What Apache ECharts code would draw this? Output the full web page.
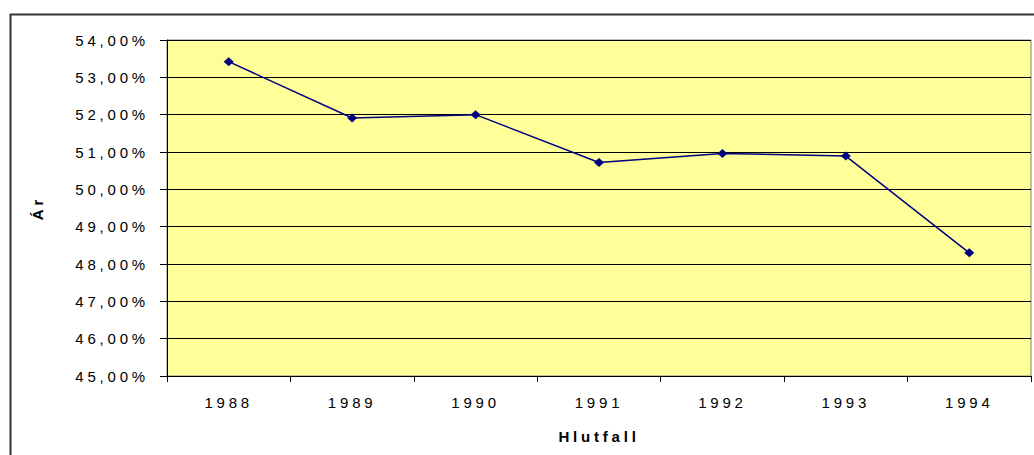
<!DOCTYPE html>
<html>
<head>
<meta charset="utf-8">
<script src="https://cdn.jsdelivr.net/npm/echarts@6/dist/echarts.min.js"></script>
<style>
html, body { margin: 0; padding: 0; background: #fff; }
#chart { width: 1034px; height: 455px; }
#chart text { letter-spacing: 3.8px; }
</style>
</head>
<body>
<div id="chart"></div>
<script>
const categories = ['1988', '1989', '1990', '1991', '1992', '1993', '1994'];
const values = [53.42, 51.91, 52.00, 50.72, 50.96, 50.89, 48.30];
const yMin = 45, yMax = 54, yStep = 1;
const xTitle = 'Hlutfall';
const yTitle = 'Ár';

const chart = echarts.init(document.getElementById('chart'), null, { renderer: 'svg' });
const font = 'Arial, "Liberation Sans", sans-serif';
chart.setOption({
  animation: false,
  backgroundColor: '#fff',
  graphic: [{
    type: 'rect', left: 8, top: 12, silent: true, z: 0,
    shape: { x: 0, y: 0, width: 1040, height: 460 },
    style: { fill: 'none', stroke: '#333', lineWidth: 2 }
  }],
  grid: {
    left: 167, top: 40, right: 3, bottom: 79,
    show: true, backgroundColor: '#FFFF99', borderColor: '#808080', borderWidth: 1
  },
  xAxis: {
    type: 'category', data: categories, boundaryGap: true,
    name: xTitle, nameLocation: 'middle', nameGap: 53,
    nameTextStyle: { fontFamily: font, fontSize: 15, fontWeight: 'bold', color: '#000' },
    axisLine: { show: true, lineStyle: { color: '#000', width: 1 } },
    axisTick: { show: true, length: 6, lineStyle: { color: '#000' } },
    axisLabel: { fontFamily: font, fontSize: 15, color: '#000', margin: 19 },
    splitLine: { show: false }
  },
  yAxis: {
    type: 'value', min: yMin, max: yMax, interval: yStep,
    name: yTitle, nameLocation: 'middle', nameGap: 122,
    nameTextStyle: { fontFamily: font, fontSize: 15, fontWeight: 'bold', color: '#000' },
    axisLine: { show: true, lineStyle: { color: '#000', width: 1 } },
    axisTick: { show: true, length: 7, lineStyle: { color: '#000' } },
    axisLabel: {
      fontFamily: font, fontSize: 15, color: '#000', margin: 18,
      padding: [6, 0, 0, 0],
      formatter: v => v.toFixed(2).replace('.', ',') + '%'
    },
    splitLine: { show: true, lineStyle: { color: '#000', width: 1 } }
  },
  series: [{
    type: 'line', data: values,
    symbol: 'diamond', symbolSize: [10, 9],
    lineStyle: { color: '#000080', width: 1.5 },
    itemStyle: { color: '#000080' }
  }]
});
</script>
</body>
</html>
